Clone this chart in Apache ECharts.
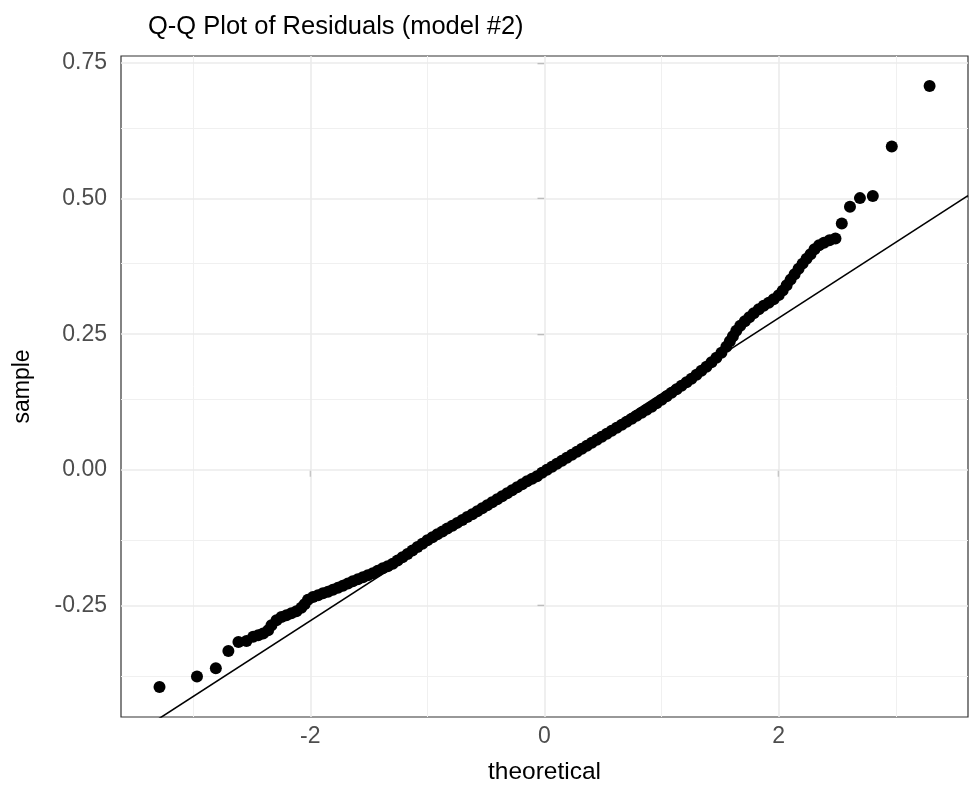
<!DOCTYPE html>
<html>
<head>
<meta charset="utf-8">
<script src="https://cdn.jsdelivr.net/npm/echarts/dist/echarts.min.js"></script>
<style>
html, body { margin: 0; padding: 0; background: #fff; }
#chart { width: 969px; height: 793px; }
</style>
</head>
<body>
<div id="chart"></div>
<script>
// Theoretical normal quantiles (x) and sorted residuals (y)
const theoretical = [
  -3.288, -2.968, -2.807, -2.700, -2.614, -2.545, -2.488, -2.445, -2.403, -2.360,
  -2.332, -2.289, -2.247, -2.204, -2.162, -2.119, -2.077, -2.049, -2.020, -1.977,
  -1.934, -1.892, -1.849, -1.807, -1.764, -1.722, -1.679, -1.637, -1.594, -1.551,
  -1.509, -1.466, -1.424, -1.381, -1.339, -1.296, -1.255, -1.213, -1.170, -1.128,
  -1.085, -1.043, -1.000, -0.957, -0.915, -0.872, -0.830, -0.787, -0.745, -0.702,
  -0.660, -0.617, -0.574, -0.532, -0.489, -0.447, -0.404, -0.362, -0.319, -0.277,
  -0.234, -0.191, -0.149, -0.106, -0.064, -0.021,
  0.021, 0.064, 0.106, 0.149, 0.191, 0.234, 0.277, 0.319, 0.362, 0.404,
  0.447, 0.489, 0.532, 0.574, 0.617, 0.660, 0.702, 0.745, 0.787, 0.830,
  0.872, 0.915, 0.957, 1.000, 1.043, 1.085, 1.128, 1.170, 1.213, 1.255,
  1.298, 1.340, 1.383, 1.426, 1.468, 1.511, 1.553,
  1.583, 1.609, 1.638, 1.672, 1.711, 1.749, 1.787, 1.830, 1.872, 1.915,
  1.957, 2.000, 2.034, 2.068, 2.102, 2.136, 2.170, 2.204, 2.238, 2.272,
  2.306, 2.345, 2.387, 2.434, 2.485,
  2.539, 2.609, 2.694, 2.804, 2.966, 3.289
];
const sample = [
  -0.4007, -0.3815, -0.3659, -0.3343, -0.3177, -0.3160, -0.3081, -0.3053, -0.3022, -0.2961,
  -0.2869, -0.2777, -0.2716, -0.2684, -0.2648, -0.2611, -0.2546, -0.2482, -0.2399, -0.2347,
  -0.2315, -0.2279, -0.2251, -0.2214, -0.2177, -0.2140, -0.2100, -0.2057, -0.2020, -0.1983,
  -0.1946, -0.1910, -0.1863, -0.1817, -0.1780, -0.1734, -0.1675, -0.1614, -0.1552, -0.1489,
  -0.1426, -0.1363, -0.1301, -0.1245, -0.1190, -0.1138, -0.1085, -0.1033, -0.0980, -0.0926,
  -0.0873, -0.0821, -0.0766, -0.0710, -0.0655, -0.0600, -0.0544, -0.0489, -0.0434, -0.0378,
  -0.0323, -0.0268, -0.0212, -0.0166, -0.0120, -0.0055,
  0.0000, 0.0055, 0.0111, 0.0166, 0.0221, 0.0277, 0.0332, 0.0387, 0.0443, 0.0498,
  0.0554, 0.0609, 0.0664, 0.0720, 0.0775, 0.0830, 0.0886, 0.0941, 0.0996, 0.1052,
  0.1107, 0.1162, 0.1227, 0.1292, 0.1356, 0.1421, 0.1485, 0.1550, 0.1614, 0.1679,
  0.1753, 0.1827, 0.1900, 0.1983, 0.2066, 0.2159, 0.2269,
  0.2371, 0.2463, 0.2565, 0.2657, 0.2740, 0.2814, 0.2887, 0.2961, 0.3026, 0.3081,
  0.3146, 0.3220, 0.3303, 0.3404, 0.3506, 0.3607, 0.3708, 0.3801, 0.3893, 0.3976,
  0.4068, 0.4142, 0.4188, 0.4234, 0.4266,
  0.4542, 0.4849, 0.5009, 0.5046, 0.5963, 0.7076
];

// Reference (Q-Q) line
const lineIntercept = 0.0007;
const lineSlope = 0.1396;

// Axis ranges and ticks
const xRange = [-3.617, 3.617];
const yRange = [-0.456, 0.763];
const xTicks = [-2, 0, 2];
const xMinorTicks = [-3, -1, 1, 3];
const yTicks = [-0.25, 0, 0.25, 0.5, 0.75];
const yMinorTicks = [-0.375, -0.125, 0.125, 0.375, 0.625];

const FONT = 'Liberation Sans, Arial, Helvetica, sans-serif';

const points = theoretical.map((x, i) => [x, sample[i]]);
const lineData = [
  [xRange[0], lineIntercept + lineSlope * xRange[0]],
  [xRange[1], lineIntercept + lineSlope * xRange[1]]
];

function gridLines(values, axisKey, width, color) {
  return values.map(v => ({
    [axisKey]: v,
    lineStyle: { color: color, width: width, type: 'solid' }
  }));
}

const chart = echarts.init(document.getElementById('chart'), null, { renderer: 'canvas' });

chart.setOption({
  animation: false,
  backgroundColor: '#ffffff',
  title: {
    text: 'Q-Q Plot of Residuals (model #2)',
    left: 143,
    top: 9,
    textStyle: { fontFamily: FONT, fontSize: 25.5, fontWeight: 'normal', color: '#000000' }
  },
  grid: {
    left: 121,
    right: 1,
    top: 56,
    bottom: 76,
    show: true,
    backgroundColor: '#ffffff',
    borderColor: '#333333',
    borderWidth: 1.2,
    containLabel: false,
    outerBoundsMode: 'none'
  },
  xAxis: {
    type: 'value',
    min: xRange[0],
    max: xRange[1],
    name: 'theoretical',
    nameLocation: 'middle',
    nameGap: 43,
    nameTextStyle: { fontFamily: FONT, fontSize: 24.5, color: '#000000' },
    axisLine: { show: false },
    splitLine: { show: false },
    axisTick: { show: true, customValues: xTicks, length: 7, lineStyle: { color: '#333333', width: 1.2 } },
    axisLabel: {
      customValues: xTicks,
      formatter: v => String(Math.round(v)),
      fontFamily: FONT, fontSize: 23, color: '#4d4d4d', margin: 8
    }
  },
  yAxis: {
    type: 'value',
    min: yRange[0],
    max: yRange[1],
    name: 'sample',
    nameLocation: 'middle',
    nameRotate: 90,
    nameGap: 87,
    nameTextStyle: { fontFamily: FONT, fontSize: 23, color: '#000000' },
    axisLine: { show: false },
    splitLine: { show: false },
    axisTick: { show: true, customValues: yTicks, length: 7, lineStyle: { color: '#333333', width: 1.2 } },
    axisLabel: {
      customValues: yTicks,
      formatter: v => v.toFixed(2),
      fontFamily: FONT, fontSize: 23, color: '#4d4d4d', margin: 14
    }
  },
  series: [
    {
      type: 'scatter',
      data: [],
      silent: true,
      z: 1,
      markLine: {
        silent: true,
        z: 1,
        symbol: 'none',
        label: { show: false },
        emphasis: { disabled: true },
        animation: false,
        data: [].concat(
          gridLines(xMinorTicks, 'xAxis', 1, '#f0f0f0'),
          gridLines(yMinorTicks, 'yAxis', 1, '#f0f0f0'),
          gridLines(xTicks, 'xAxis', 1.6, '#ebebeb'),
          gridLines(yTicks, 'yAxis', 1.6, '#ebebeb')
        )
      }
    },
    {
      type: 'scatter',
      data: points,
      symbol: 'circle',
      symbolSize: 12,
      itemStyle: { color: '#000000', opacity: 1 },
      silent: true,
      z: 3
    },
    {
      type: 'line',
      data: lineData,
      showSymbol: false,
      symbol: 'none',
      clip: true,
      lineStyle: { color: '#000000', width: 1.6 },
      silent: true,
      z: 4
    }
  ]
});
</script>
</body>
</html>
